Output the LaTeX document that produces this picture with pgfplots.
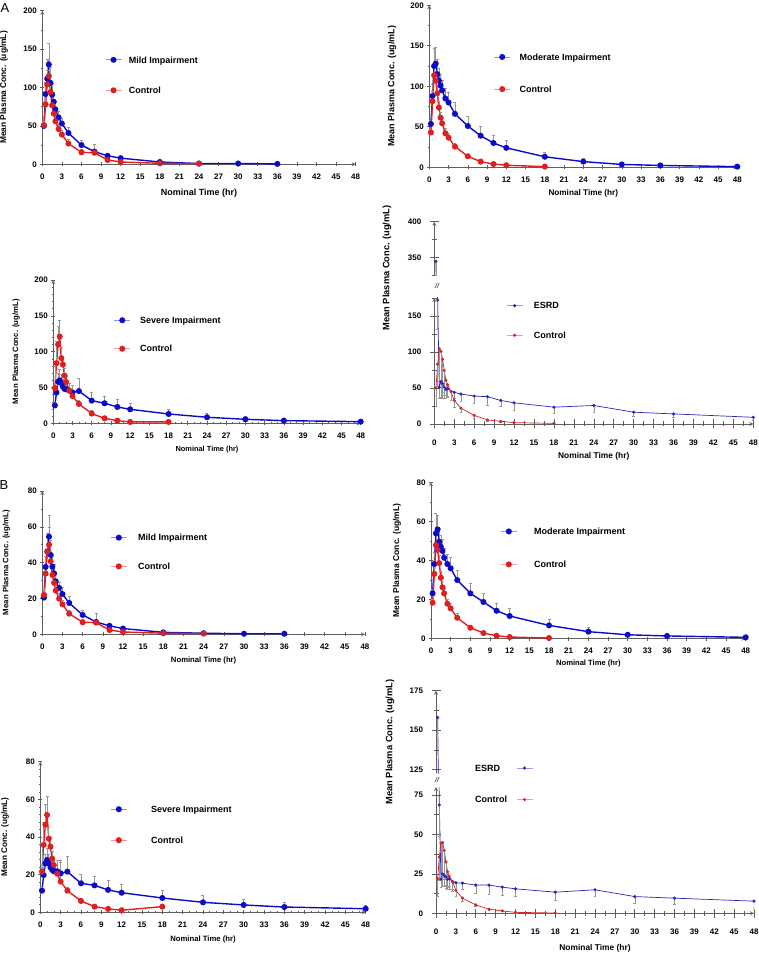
\documentclass[border=0pt]{standalone}
\usepackage{fontspec}
\setmainfont{Liberation Sans}
\usepackage{pgfplots}
\pgfplotsset{compat=1.18}

\definecolor{cb}{RGB}{12,12,200}
\definecolor{cr}{RGB}{222,32,32}
\definecolor{cbE}{RGB}{40,40,185}
\definecolor{crE}{RGB}{205,40,40}
\definecolor{ax}{RGB}{95,95,95}
\definecolor{eb}{RGB}{150,150,150}

\pgfplotsset{
  base/.style={
    scale only axis, xmin=0, xmax=48,
    axis line style={ax, line width=0.8pt, -},
    tick style={ax, line width=0.6pt},
    tick align=outside,
    tick label style={font=\bfseries\fontsize{8}{8}\selectfont},
    /pgf/number format/assume math mode=true,
    legend cell align=left,
    legend image code/.code={
      \draw[##1, mark=none, line width=0.7pt, draw opacity=0.45] (0pt,0pt) -- (16pt,0pt);
      \path[##1] plot coordinates {(8pt,0pt)};},
    legend style={draw=none, fill=none, anchor=west, inner sep=0pt,
      font=\bfseries\fontsize{9}{10}\selectfont,
      nodes={inner sep=0pt, text height=6.5pt, text depth=0pt}},
  },
  pk/.style={base, axis lines=left, ymin=0, clip=false,
    major tick length=4pt, minor tick length=2pt,
    xtick={0,3,...,48}, xticklabel style={yshift=-4pt},
    xlabel style={anchor=center, font=\bfseries\fontsize{8.5}{9}\selectfont},
    ylabel style={anchor=center, font=\bfseries\fontsize{8.5}{9}\selectfont}},
  pe/.style={base, major tick length=9pt, minor tick length=5pt,
    xticklabel style={yshift=-8pt}, yticklabel style={xshift=-5pt}},
  sb/.style={cb, line width=1.4pt, mark=*, mark size=2.3pt, mark options={solid, fill=cb},
    error bars/.cd, y dir=plus, y explicit,
    error bar style={eb, line width=0.6pt},
    error mark options={rotate=90, eb, mark size=1.5pt, line width=0.6pt}},
  sr/.style={cr, line width=1.4pt, mark=*, mark size=2.3pt, mark options={solid, fill=cr},
    error bars/.cd, y dir=plus, y explicit,
    error bar style={eb, line width=0.6pt},
    error mark options={rotate=90, eb, mark size=1.5pt, line width=0.6pt}},
  sbE/.style={cbE, line width=0.7pt, mark=*, mark size=1.2pt, mark options={solid, fill=cbE},
    error bars/.cd, y dir=minus, y explicit,
    error bar style={eb, line width=0.5pt},
    error mark options={rotate=90, eb, mark size=1.3pt, line width=0.5pt}},
  srE/.style={crE, line width=0.7pt, mark=*, mark size=1.2pt, mark options={solid, fill=crE},
    error bars/.cd, y dir=minus, y explicit,
    error bar style={eb, line width=0.5pt},
    error mark options={rotate=90, eb, mark size=1.3pt, line width=0.5pt}},
}

% ---------- data (time, mean, SD) ----------
\pgfplotstableread{
t c e
0.25 50 5
0.5 91.5 15
0.75 111.5 25
1 130 28
1.25 106 20
1.5 90.7 15
1.75 81.5 12
2 71.6 10
2.5 61 8
3 53 7
4 40.8 8
6 25 6
8 16.5 10
10 11 3
12 8 2
18 3 1
24 1 0.5
30 1 0.3
36 0.5 0.3
}\aMild
\pgfplotstableread{
t c e
0.25 51 5
0.5 78 12
0.75 104 18
1 115 22
1.25 94 15
1.5 77 12
1.75 66 10
2 56 8
2.5 46 7
3 38.6 6
4 27 5
6 15.6 4
8 15 5
10 5.6 2
12 3 1
18 1.3 0.5
24 0.8 0.3
}\aMildC
\pgfplotstableread{
t c e
0.25 53.5 5
0.5 88 15
0.75 125 22
1 128 20
1.25 115 18
1.5 107 15
1.75 101 14
2 95 13
2.5 85 12
3 80 12
4 66 14
6 51 12
8 39 11
10 30 10
12 24 9
18 13 6
24 7 4
30 3.5 2
36 2.3 1.5
48 0.8 0.5
}\aMod
\pgfplotstableread{
t c e
0.25 43 4
0.5 81.5 12
0.75 113.6 15
1 107 12
1.25 91.4 10
1.5 73.7 8
1.75 61.3 7
2 54.3 6
2.5 42 6
3 36.6 5
4 25.5 4
6 13.6 3
8 7 2
10 4 1.5
12 2.5 1
18 0.8 0.5
}\aModC
\pgfplotstableread{
t c e
0.25 25 5
0.5 43 10
0.75 58 12
1 60 15
1.25 56 12
1.5 51 10
1.75 48 10
2 47.4 10
2.5 45.6 10
3 43 10
4 45 18
6 31.6 12
8 28 10
10 22.8 10
12 19.5 9
18 13 7
24 8.4 5
30 5.6 4
36 3.7 3
48 2.3 2
}\aSev
\pgfplotstableread{
t c e
0.25 49 30
0.5 84 30
0.75 110 26
1 121 23
1.25 91 15
1.5 82 12
1.75 66.5 10
2 57.7 8
2.5 45.6 10
3 38 15
4 27 5
6 13.5 4
8 7 3
10 3.7 2
12 1.9 1
18 1.9 1
}\aSevC
\pgfplotstableread{
t c e
0.25 345 20
0.5 172 40
0.75 51 15
1 59 22
1.25 56 20
1.5 51 15
1.75 48 12
2 49 10
3 44 8
4 41.6 10
6 38.8 10
8 37.9 12
10 32.7 8
12 29.4 10
18 23.4 8
24 25.7 10
30 16.4 6
36 14 5
48 9.3 4
}\aEs
\pgfplotstableread{
t c e
0.25 50 25
0.5 83 30
0.75 104.7 45
1 101 50
1.25 89.7 45
1.5 74.3 35
1.75 60.7 25
2 54.7 18
2.5 45 12
3 32.7 10
4 22 6
6 12 4
8 5.6 2
10 3.7 1
12 1.9 1
18 0.9 0.5
}\aEsC
\pgfplotstableread{
t c e
0.25 20.5 3
0.5 37.6 6
0.75 46.3 10
1 54.5 12
1.25 44.3 8
1.5 37.8 6
1.75 34 5
2 29.6 4
2.5 25.9 3
3 22.5 4
4 17.5 3.5
6 10.8 2.5
8 6.9 5
10 4.7 1.5
12 3.2 1
18 1.1 0.5
24 0.6 0.3
30 0.3 0.2
36 0.3 0.2
}\bMild
\pgfplotstableread{
t c e
0.25 22 3
0.5 33.9 5
0.75 46 8
1 50 10
1.25 40.7 6
1.5 33.1 5
1.75 28.7 4
2 24.4 3
2.5 19.9 3
3 16.7 2.5
4 11.5 2
6 6.7 1.5
8 6.5 2
10 2.4 1
12 1.3 0.5
18 0.6 0.3
24 0.4 0.2
}\bMildC
\pgfplotstableread{
t c e
0.25 23.2 2
0.5 38.2 6
0.75 53.9 10
1 55.9 7
1.25 49.6 7
1.5 47 6
1.75 44.9 6
2 41.4 5
2.5 38.2 5
3 36 5.5
4 30 5
6 23.2 5
8 18.8 4.5
10 14.3 4
12 11.6 4
18 6.8 3
24 3.6 2
30 2 1
36 1.4 0.7
48 0.7 0.3
}\bMod
\pgfplotstableread{
t c e
0.25 18.4 2
0.5 33.1 5
0.75 47.9 7
1 45.4 5
1.25 38.7 4
1.5 31.2 3.5
1.75 26.3 3
2 23.2 2.5
2.5 17.9 2.5
3 15.5 2.5
4 10.7 2.5
6 5.6 1.5
8 2.9 1
10 1.5 0.7
12 0.85 0.5
18 0.35 0.2
}\bModC
\pgfplotstableread{
t c e
0.25 11.5 2
0.5 19.8 4
0.75 26 5
1 27.8 6
1.25 26 5
1.5 23.9 4
1.75 22.5 4
2 21.8 5
2.5 21.8 6
3 20.7 7
4 21.6 8
6 15.4 5
8 14.3 5
10 11.9 5
12 10.4 4.5
18 7.6 4
24 5.3 3.5
30 3.9 3
36 2.8 2.5
48 1.9 2
}\bSev
\pgfplotstableread{
t c e
0.25 21.6 15
0.5 35.8 12
0.75 46.5 11
1 51.7 10
1.25 39.1 6
1.5 34.9 5
1.75 28.5 4
2 25.1 3
2.5 20.5 7
3 16.3 10
4 11.5 2
6 6 1.5
8 3 1
10 1.8 0.7
12 1.1 0.5
18 3 0.5
}\bSevC
\pgfplotstableread{
t c e
0.25 158 10
0.5 68.7 20
0.75 21.7 5
1 25 8
1.25 24 7
1.5 23 7
1.75 21.5 6
2 22 5
2.5 20 5
3 19.4 5
4 19.1 4
6 17.9 5
8 17.9 6
10 16.6 5
12 15.5 5
18 13.4 5
24 14.9 4
30 10.6 4
36 9.6 4
48 7.7 4
}\bEs
\pgfplotstableread{
t c e
0.25 21.9 11
0.5 35.7 15
0.75 44.7 20
1 44.7 22
1.25 39.8 18
1.5 32.6 15
1.75 26.4 10
2 23.4 8
2.5 20.2 6
3 14.5 4
4 9.6 2
6 5.3 1
8 2.6 0.7
10 1.5 0.5
12 0.6 0.3
18 0.2 0.1
}\bEsC

\begin{document}
\begin{tikzpicture}
\path[use as bounding box] (0pt,0pt) rectangle (759pt,954pt);

\node[font=\fontsize{13}{14}\selectfont] at (5pt,946pt) {A};
\node[font=\fontsize{13}{14}\selectfont] at (4pt,469pt) {B};

% ===== A: mild =====
\begin{axis}[pk, at={(42.3pt,789.7pt)}, anchor=south west, width=313.4pt, height=153.6pt,
  ymax=200, ytick={0,50,...,200}, minor y tick num=1,
  xlabel={Nominal Time (hr)}, xlabel style={at={(axis description cs:0.5,-0.1868)}, font=\bfseries\fontsize{9}{9}\selectfont},
  ylabel={Mean Plasma Conc. (ug/mL)}, ylabel style={at={(axis description cs:-0.1222,0.5)}, font=\bfseries\fontsize{8.4}{9}\selectfont},
  legend style={at={(axis description cs:0.200,0.581)}, row sep=24pt, column sep=7pt}]
\addplot[sb] table[x=t,y=c,y error=e] {\aMild};
\addlegendentry{Mild Impairment}
\addplot[sr] table[x=t,y=c,y error=e] {\aMildC};
\addlegendentry{Control}
\end{axis}

% ===== A: moderate =====
\begin{axis}[pk, at={(429.3pt,786.7pt)}, anchor=south west, width=308pt, height=162pt,
  ymax=200, ytick={0,50,...,200}, minor y tick num=1,
  xlabel={Nominal Time (hr)}, xlabel style={at={(axis description cs:0.5,-0.1586)}, font=\bfseries\fontsize{8.2}{9}\selectfont},
  ylabel={Mean Plasma Conc. (ug/mL)}, ylabel style={at={(axis description cs:-0.1211,0.5)}, font=\bfseries\fontsize{9}{9}\selectfont},
  legend style={at={(axis description cs:0.209,0.582)}, row sep=25.6pt, column sep=9pt}]
\addplot[sb] table[x=t,y=c,y error=e] {\aMod};
\addlegendentry{Moderate Impairment}
\addplot[sr] table[x=t,y=c,y error=e] {\aModC};
\addlegendentry{Control}
\end{axis}

% ===== A: severe =====
\begin{axis}[pk, at={(53.3pt,530.7pt)}, anchor=south west, width=307.4pt, height=143.3pt,
  ymax=200, ytick={0,50,...,200}, minor y tick num=4, minor x tick num=2,
  xlabel={Nominal Time (hr)}, xlabel style={at={(axis description cs:0.5,-0.1863)}, font=\bfseries\fontsize{7.4}{8}\selectfont},
  ylabel={Mean Plasma Conc. (ug/mL)}, ylabel style={at={(axis description cs:-0.1213,0.5)}, font=\bfseries\fontsize{7.8}{8}\selectfont},
  legend style={at={(axis description cs:0.1965,0.6197)}, row sep=22pt, column sep=9.6pt}]
\addplot[sb] table[x=t,y=c,y error=e] {\aSev};
\addlegendentry{Severe Impairment}
\addplot[sr] table[x=t,y=c,y error=e] {\aSevC};
\addlegendentry{Control}
\end{axis}

% ===== A: ESRD (broken y axis) =====
\begin{axis}[pe, at={(434.3pt,678.3pt)}, anchor=south west, width=319pt, height=54pt,
  axis x line=none, axis y line=left, ymin=325, ymax=400,
  ytick={350,400}, minor ytick={325,375}]
\addplot[sbE] table[x=t,y=c,y error=e] {\aEs};
\end{axis}
\begin{axis}[pe, axis lines=left, at={(434.3pt,530pt)}, anchor=south west, width=319pt, height=126pt,
  ymin=0, ymax=175, ytick={0,50,100,150}, minor ytick={25,75,125,175},
  xtick={0,3,...,48}, minor x tick num=1,
  xlabel={Nominal Time (hr)}, xlabel style={at={(axis description cs:0.5,-0.254)}, anchor=center, font=\bfseries\fontsize{8.4}{9}\selectfont},
  ylabel={Mean Plasma Conc. (ug/mL)}, ylabel style={at={(axis description cs:-0.1483,1.238)}, anchor=center, font=\bfseries\fontsize{9.3}{9}\selectfont},
  legend style={at={(axis description cs:0.2248,0.8214)}, row sep=23pt, column sep=11pt}]
\addplot[sbE] table[x=t,y=c,y error=e] {\aEs};
\addlegendentry{ESRD}
\addplot[srE] table[x=t,y=c,y error=e] {\aEsC};
\addlegendentry{Control}
\end{axis}
\node[font=\itshape\fontsize{7}{7}\selectfont] at (437pt,668pt) {//};

% ===== B: mild =====
\begin{axis}[pk, at={(42.3pt,319.7pt)}, anchor=south west, width=322.7pt, height=143.3pt,
  ymax=80, ytick={0,20,...,80}, minor y tick num=1,
  xlabel={Nominal Time (hr)}, xlabel style={at={(axis description cs:0.5,-0.1863)}, font=\bfseries\fontsize{7.7}{8}\selectfont},
  ylabel={Mean Plasma Conc. (ug/mL)}, ylabel style={at={(axis description cs:-0.1116,0.5)}, font=\bfseries\fontsize{7.8}{8}\selectfont},
  legend style={at={(axis description cs:0.2107,0.5743)}, row sep=22.2pt, column sep=11pt}]
\addplot[sb] table[x=t,y=c,y error=e] {\bMild};
\addlegendentry{Mild Impairment}
\addplot[sr] table[x=t,y=c,y error=e] {\bMildC};
\addlegendentry{Control}
\end{axis}

% ===== B: moderate =====
\begin{axis}[pk, at={(431pt,315.3pt)}, anchor=south west, width=314.7pt, height=156.4pt,
  ymax=80, ytick={0,20,...,80}, minor y tick num=1,
  xlabel={Nominal Time (hr)}, xlabel style={at={(axis description cs:0.5,-0.1618)}, font=\bfseries\fontsize{7.6}{8}\selectfont},
  ylabel={Mean Plasma Conc. (ug/mL)}, ylabel style={at={(axis description cs:-0.1080,0.5)}, font=\bfseries\fontsize{8.5}{9}\selectfont},
  legend style={at={(axis description cs:0.2202,0.5806)}, row sep=26.4pt, column sep=17pt}]
\addplot[sb] table[x=t,y=c,y error=e] {\bMod};
\addlegendentry{Moderate Impairment}
\addplot[sr] table[x=t,y=c,y error=e] {\bModC};
\addlegendentry{Control}
\end{axis}

% ===== B: severe =====
\begin{axis}[pk, at={(40.3pt,41.7pt)}, anchor=south west, width=325.4pt, height=150.6pt,
  ymax=80, ytick={0,20,...,80}, minor y tick num=4, minor x tick num=2,
  xlabel={Nominal Time (hr)}, xlabel style={at={(axis description cs:0.5,-0.1793)}, font=\bfseries\fontsize{7.7}{8}\selectfont},
  ylabel={Mean Conc. (ug/mL)}, ylabel style={at={(axis description cs:-0.1085,0.5)}, font=\bfseries\fontsize{8.2}{9}\selectfont},
  legend style={at={(axis description cs:0.2151,0.5817)}, row sep=24.4pt, column sep=24pt}]
\addplot[sb] table[x=t,y=c,y error=e] {\bSev};
\addlegendentry{Severe Impairment}
\addplot[sr] table[x=t,y=c,y error=e] {\bSevC};
\addlegendentry{Control}
\end{axis}

% ===== B: ESRD (broken y axis) =====
\begin{axis}[pe, at={(436pt,180.5pt)}, anchor=south west, width=318pt, height=82.8pt,
  axis x line=none, axis y line=left, ymin=122.5, ymax=175,
  ytick={125,150,175}, minor ytick={137.5,162.5}]
\addplot[sbE] table[x=t,y=c,y error=e] {\bEs};
\end{axis}
\begin{axis}[pe, axis lines=left, at={(436pt,40.7pt)}, anchor=south west, width=318pt, height=126.2pt,
  ymin=0, ymax=80, ytick={0,25,50,75}, minor ytick={12.5,37.5,62.5},
  xtick={0,3,...,48}, minor x tick num=1,
  xlabel={Nominal Time (hr)}, xlabel style={at={(axis description cs:0.5,-0.275)}, anchor=center, font=\bfseries\fontsize{8.4}{9}\selectfont},
  ylabel={Mean Plasma Conc. (ug/mL)}, ylabel style={at={(axis description cs:-0.1447,1.357)}, anchor=center, font=\bfseries\fontsize{9.3}{9}\selectfont},
  legend plot pos=right,
  legend style={at={(axis description cs:0.1226,1.0261)}, row sep=25pt, column sep=9pt}]
\addplot[sbE] table[x=t,y=c,y error=e] {\bEs};
\addlegendentry{ESRD}
\addplot[srE] table[x=t,y=c,y error=e] {\bEsC};
\addlegendentry{Control}
\end{axis}
\node[font=\itshape\fontsize{7}{7}\selectfont] at (437pt,174pt) {//};
\end{tikzpicture}
\end{document}
